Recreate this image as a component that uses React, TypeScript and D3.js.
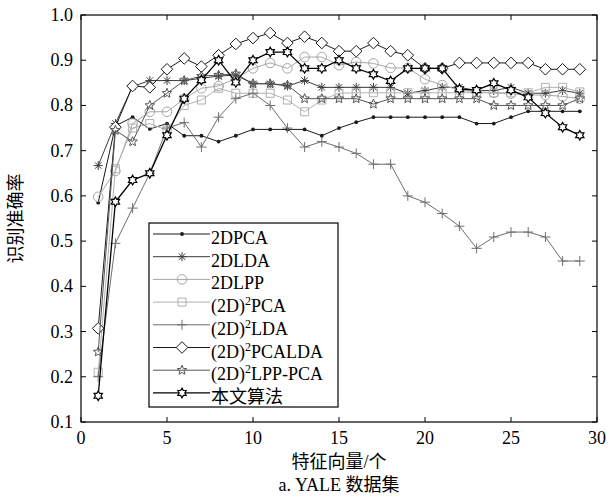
import * as d3 from "d3";

const width = 609;
const height = 499;

// feature vector counts (x)
const dims = [1, 2, 3, 4, 5, 6, 7, 8, 9, 10, 11, 12, 13, 14, 15, 16, 17, 18, 19, 20, 21, 22, 23, 24, 25, 26, 27, 28, 29];

const pca2d = [0.585, 0.755, 0.774, 0.748, 0.76, 0.733, 0.733, 0.72, 0.733, 0.747, 0.747, 0.747, 0.747, 0.733, 0.75, 0.763, 0.774, 0.774, 0.774, 0.774, 0.774, 0.774, 0.76, 0.76, 0.774, 0.787, 0.787, 0.787, 0.787];
const lda2d = [0.667, 0.76, 0.842, 0.855, 0.855, 0.855, 0.86, 0.865, 0.867, 0.848, 0.848, 0.843, 0.855, 0.84, 0.84, 0.84, 0.84, 0.84, 0.827, 0.833, 0.84, 0.84, 0.833, 0.833, 0.84, 0.827, 0.827, 0.833, 0.827];
const lpp2d = [0.598, 0.655, 0.76, 0.786, 0.786, 0.815, 0.838, 0.843, 0.86, 0.882, 0.894, 0.882, 0.907, 0.907, 0.889, 0.896, 0.893, 0.883, 0.883, 0.858, 0.845, 0.834, 0.83, 0.828, 0.826, 0.823, 0.823, 0.82, 0.815];
const pca2d2 = [0.21, 0.66, 0.75, 0.76, 0.745, 0.8, 0.812, 0.838, 0.827, 0.827, 0.827, 0.812, 0.786, 0.812, 0.827, 0.828, 0.828, 0.828, 0.828, 0.828, 0.828, 0.828, 0.828, 0.828, 0.828, 0.828, 0.84, 0.84, 0.83];
const lda2d2 = [0.2, 0.495, 0.573, 0.65, 0.75, 0.762, 0.708, 0.774, 0.815, 0.827, 0.8, 0.75, 0.708, 0.72, 0.708, 0.694, 0.67, 0.67, 0.6, 0.586, 0.561, 0.533, 0.484, 0.509, 0.52, 0.52, 0.509, 0.456, 0.456];
const pcalda2d2 = [0.307, 0.752, 0.843, 0.84, 0.88, 0.904, 0.886, 0.911, 0.936, 0.949, 0.96, 0.938, 0.952, 0.938, 0.92, 0.92, 0.938, 0.92, 0.911, 0.882, 0.882, 0.894, 0.894, 0.894, 0.894, 0.894, 0.88, 0.88, 0.88];
const lppPca2d2 = [0.255, 0.745, 0.72, 0.8, 0.827, 0.855, 0.865, 0.867, 0.87, 0.848, 0.848, 0.845, 0.815, 0.815, 0.815, 0.815, 0.803, 0.815, 0.815, 0.815, 0.815, 0.815, 0.815, 0.8, 0.8, 0.8, 0.8, 0.8, 0.815];
const ours = [0.158, 0.587, 0.635, 0.65, 0.734, 0.815, 0.856, 0.9, 0.851, 0.9, 0.918, 0.918, 0.882, 0.882, 0.9, 0.882, 0.869, 0.854, 0.882, 0.882, 0.882, 0.836, 0.834, 0.849, 0.834, 0.818, 0.783, 0.752, 0.734];

const xTicks = [0, 5, 10, 15, 20, 25, 30];
const yTicks = [0.1, 0.2, 0.3, 0.4, 0.5, 0.6, 0.7, 0.8, 0.9, 1.0];

type Marker = "dot" | "asterisk" | "circle" | "square" | "plus" | "diamond" | "pentagram" | "hexagram";

const series: { name: string; sup?: string; rest?: string; values: number[]; color: string; marker: Marker; lw: number }[] = [
  { name: "2DPCA", values: pca2d, color: "#1a1a1a", marker: "dot", lw: 1 },
  { name: "2DLDA", values: lda2d, color: "#3c3c3c", marker: "asterisk", lw: 1 },
  { name: "2DLPP", values: lpp2d, color: "#a6a6a6", marker: "circle", lw: 1 },
  { name: "(2D)", sup: "2", rest: "PCA", values: pca2d2, color: "#b0b0b0", marker: "square", lw: 1 },
  { name: "(2D)", sup: "2", rest: "LDA", values: lda2d2, color: "#6e6e6e", marker: "plus", lw: 1 },
  { name: "(2D)", sup: "2", rest: "PCALDA", values: pcalda2d2, color: "#1a1a1a", marker: "diamond", lw: 1 },
  { name: "(2D)", sup: "2", rest: "LPP-PCA", values: lppPca2d2, color: "#555555", marker: "pentagram", lw: 1 },
  { name: "本文算法", values: ours, color: "#000000", marker: "hexagram", lw: 1.3 },
];

const serif = "'Liberation Serif', 'Times New Roman', 'Noto Sans CJK SC', serif";

function starPath(points: number, outer: number, inner: number) {
  const p = d3.path();
  for (let k = 0; k < points * 2; k++) {
    const r = k % 2 === 0 ? outer : inner;
    const a = -Math.PI / 2 + (k * Math.PI) / points;
    const px = r * Math.cos(a);
    const py = r * Math.sin(a);
    if (k === 0) p.moveTo(px, py);
    else p.lineTo(px, py);
  }
  p.closePath();
  return p.toString();
}

function markerPath(m: Marker) {
  switch (m) {
    case "asterisk":
      return "M-4.5,0H4.5M0,-4.5V4.5M-3.2,-3.2L3.2,3.2M-3.2,3.2L3.2,-3.2";
    case "circle":
      return "M4.8,0A4.8,4.8 0 1 1 -4.8,0A4.8,4.8 0 1 1 4.8,0Z";
    case "square":
      return "M-4,-4H4V4H-4Z";
    case "plus":
      return "M-5,0H5M0,-5V5";
    case "diamond":
      return "M0,-5.8L5.8,0L0,5.8L-5.8,0Z";
    case "pentagram":
      return starPath(5, 5, 2.2);
    case "hexagram":
      return starPath(6, 4.8, 2.8);
    default:
      return "";
  }
}

function MarkerShape({ m, x, y, color }: { m: Marker; x: number; y: number; color: string }) {
  if (m === "dot") return <circle cx={x} cy={y} r={1.9} fill={color} />;
  return (
    <path
      d={markerPath(m)}
      transform={`translate(${x},${y})`}
      fill={m === "hexagram" || m === "diamond" ? "#fff" : "none"}
      stroke={color}
      strokeWidth={m === "hexagram" ? 1.2 : 1}
    />
  );
}

const App = () => {
  const x = d3.scaleLinear().domain([0, 30]).range([81, 597]);
  const y = d3.scaleLinear().domain([0.1, 1.0]).range([422, 15]);
  const line = d3
    .line<number>()
    .x((_, i) => x(dims[i]))
    .y((d) => y(d));

  const legX = 149;
  const legY = 223;
  const legW = 189;
  const legH = 184;
  const rowY = (i: number) => 234 + i * 22.7;

  return (
    <svg
      width={width}
      height={height}
      style={{ position: "absolute", left: 0, top: 0, background: "#fff" }}
      fontFamily={serif}
    >
      {/* ticks inward on all sides */}
      {xTicks.map((t) => (
        <g key={"xt" + t}>
          <line x1={x(t)} x2={x(t)} y1={y(0.1)} y2={y(0.1) - 5} stroke="#000" />
          <line x1={x(t)} x2={x(t)} y1={y(1)} y2={y(1) + 5} stroke="#000" />
          <text x={x(t)} y={444} fontSize={18} textAnchor="middle">
            {t}
          </text>
        </g>
      ))}
      {yTicks.map((t) => (
        <g key={"yt" + t}>
          <line x1={x(0)} x2={x(0) + 5} y1={y(t)} y2={y(t)} stroke="#000" />
          <line x1={x(30)} x2={x(30) - 5} y1={y(t)} y2={y(t)} stroke="#000" />
          <text x={73} y={y(t) + 6} fontSize={18} textAnchor="end">
            {t.toFixed(1)}
          </text>
        </g>
      ))}

      {series.map((s) => (
        <g key={s.name + (s.rest ?? "")}>
          <path d={line(s.values) ?? ""} fill="none" stroke={s.color} strokeWidth={s.lw} />
          {s.values.map((v, i) => (
            <MarkerShape key={i} m={s.marker} x={x(dims[i])} y={y(v)} color={s.color} />
          ))}
        </g>
      ))}

      <rect x={x(0)} y={y(1)} width={x(30) - x(0)} height={y(0.1) - y(1)} fill="none" stroke="#000" strokeWidth={1.2} />

      {/* legend */}
      <rect x={legX} y={legY} width={legW} height={legH} fill="#fff" stroke="#000" strokeWidth={1.2} />
      {series.map((s, i) => (
        <g key={"lg" + i}>
          <line x1={153} x2={210} y1={rowY(i)} y2={rowY(i)} stroke={s.color} strokeWidth={s.lw} />
          <MarkerShape m={s.marker} x={182} y={rowY(i)} color={s.color} />
          <text x={211} y={rowY(i) + 10} fontSize={18}>
            {s.name}
            {s.sup && (
              <tspan fontSize={12} dy={-7}>
                {s.sup}
              </tspan>
            )}
            {s.rest && <tspan dy={7}>{s.rest}</tspan>}
          </text>
        </g>
      ))}

      <text x={339} y={468} fontSize={18} textAnchor="middle">
        特征向量/个
      </text>
      <text x={339} y={491} fontSize={18} textAnchor="middle">
        a. YALE 数据集
      </text>
      <text transform={`translate(22,${y(0.55)}) rotate(-90)`} fontSize={18} textAnchor="middle">
        识别准确率
      </text>
    </svg>
  );
};

export default App;
